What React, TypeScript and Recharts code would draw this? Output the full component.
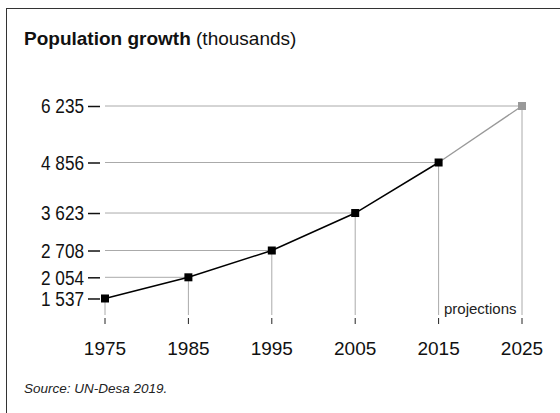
import { LineChart, Line, XAxis, YAxis, ReferenceLine, ReferenceArea, Label } from "recharts";

const years = [1975, 1985, 1995, 2005, 2015, 2025];
const observed = [1537, 2054, 2708, 3623, 4856, null];
const projected = [null, null, null, null, 4856, 6235];
const yTicks = [1537, 2054, 2708, 3623, 4856, 6235];

const FONT = '"Liberation Sans", Arial, Helvetica, sans-serif';

const data = years.map((year, i) => ({
  year,
  observed: observed[i],
  projected: projected[i],
  value: observed[i] ?? projected[i],
}));

const Y_MIN = 1134;

const fmt = (v: number) => v.toLocaleString("en-US").replace(/,/g, " ");

// labels in the source use a condensed face, squeeze them a bit
function YTick(props: any) {
  const { x, y, payload } = props;
  return (
    <g>
      <text
        x={x - 64}
        y={y}
        dy="0.36em"
        textLength={43}
        lengthAdjust="spacingAndGlyphs"
        fontSize={20}
        fill="#111"
        fontFamily={FONT}
      >
        {fmt(payload.value)}
      </text>
      <line x1={x - 17} x2={x - 5} y1={y + 0.5} y2={y + 0.5} stroke="#111" strokeWidth={1.5} />
    </g>
  );
}

function XTick(props: any) {
  const { x, y, payload } = props;
  return (
    <g>
      <line x1={x} x2={x} y1={y + 3} y2={y + 9} stroke="#222" strokeWidth={1} />
      <text x={x} y={y + 40} textAnchor="middle" fontSize={19} fill="#111" fontFamily={FONT}>
        {payload.value}
      </text>
    </g>
  );
}

function Square(color: string, skipYear?: number) {
  return (props: any) => {
    const { cx, cy, payload, index } = props;
    if (cx == null || cy == null || payload?.year === skipYear) return <g key={index} />;
    return <rect key={index} x={cx - 4} y={cy - 4} width={8} height={8} fill={color} />;
  };
}

export default function App() {
  return (
    <div style={{ position: "absolute", left: 0, top: 0, width: 560, height: 413, overflow: "hidden", background: "#fff" }}>
      <div
        style={{
          position: "absolute",
          left: 6,
          top: 8,
          width: 700,
          height: 600,
          borderLeft: "1px solid #333",
          borderTop: "1px solid #333",
        }}
      />
      <div
        style={{
          position: "absolute",
          left: 24,
          top: 29,
          fontFamily: FONT,
          fontSize: 19,
          lineHeight: 1,
          color: "#111",
          whiteSpace: "nowrap",
        }}
      >
        <b>Population growth</b> (thousands)
      </div>
      <div
        style={{
          position: "absolute",
          left: 24,
          top: 382,
          fontFamily: FONT,
          fontSize: 13.5,
          fontStyle: "italic",
          lineHeight: 1,
          color: "#222",
          whiteSpace: "nowrap",
        }}
      >
        Source: UN-Desa 2019.
      </div>
      <div style={{ position: "absolute", left: 0, top: 0 }}>
        <LineChart width={560} height={413} data={data} margin={{ top: 106, right: 38, left: 0, bottom: 38 }}>
          <XAxis
            dataKey="year"
            type="number"
            domain={[1975, 2025]}
            ticks={years}
            axisLine={false}
            tickLine={false}
            tickSize={0}
            tickMargin={0}
            height={60}
            tick={<XTick />}
            interval={0}
          />
          <YAxis
            type="number"
            domain={[Y_MIN, 6235]}
            ticks={yTicks}
            axisLine={false}
            tickLine={false}
            tickSize={0}
            tickMargin={0}
            width={105}
            tick={<YTick />}
            interval={0}
          />
          {data.map((d) => (
            <ReferenceLine
              key={`h${d.year}`}
              segment={[
                { x: 1975, y: d.value },
                { x: d.year, y: d.value },
              ]}
              stroke="#aaa"
              strokeWidth={1}
              ifOverflow="visible"
            />
          ))}
          {data.map((d) => (
            <ReferenceLine
              key={`v${d.year}`}
              segment={[
                { x: d.year, y: d.value },
                { x: d.year, y: Y_MIN },
              ]}
              stroke="#aaa"
              strokeWidth={1}
              ifOverflow="visible"
            />
          ))}
          <ReferenceArea x1={2015} x2={2025} y1={Y_MIN} y2={1600} fill="none" stroke="none" ifOverflow="visible">
            <Label position="insideBottom" offset={1} fontSize={15} fill="#222" fontFamily={FONT}>
              projections
            </Label>
          </ReferenceArea>
          <Line
            dataKey="projected"
            stroke="#999"
            strokeWidth={1.3}
            dot={Square("#999", 2015)}
            activeDot={false}
            connectNulls={false}
            isAnimationActive={false}
          />
          <Line
            dataKey="observed"
            stroke="#000"
            strokeWidth={1.5}
            dot={Square("#000")}
            activeDot={false}
            connectNulls={false}
            isAnimationActive={false}
          />
        </LineChart>
      </div>
    </div>
  );
}
